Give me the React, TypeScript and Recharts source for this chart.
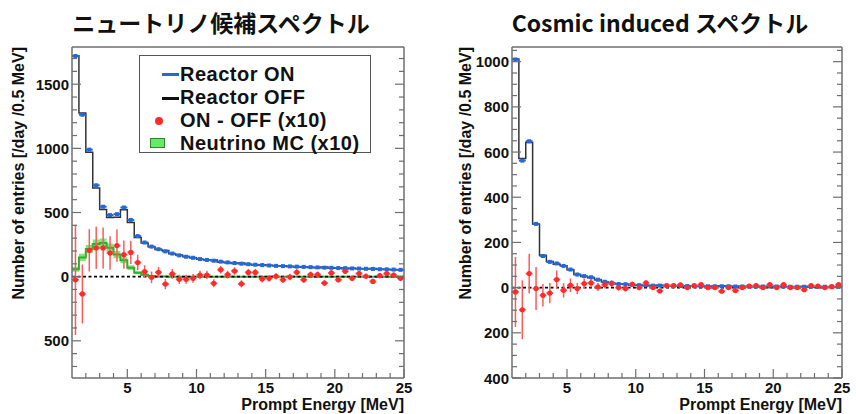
import React from 'react';
import { ComposedChart, Line, Area, Scatter, XAxis, YAxis, ErrorBar, ReferenceLine } from 'recharts';

// 0.5 MeV bins from 1 to 25 MeV
const binCenters = Array.from({ length: 48 }, (_, i) => 1.25 + 0.5 * i);

// left panel: neutrino candidates
const nuOn = [1720, 1262, 990, 712, 545, 480, 487, 539, 442, 316, 266, 234, 214, 197, 180, 166, 155, 147, 137, 130, 124, 117, 111, 106, 101, 97, 93, 90, 87, 84, 82, 80, 78, 76, 74, 72, 70, 69, 67, 66, 64, 63, 61, 60, 58, 57, 55, 53];
const nuOff = [1722, 1276, 970, 690, 523, 462, 463, 522, 423, 305, 262, 234, 211, 203, 178, 168, 157, 148, 136, 129, 129, 112, 109, 102, 107, 94, 90, 92, 88, 84, 84, 80, 75, 78, 72, 70, 75, 66, 69, 62, 65, 61, 61, 64, 57, 55, 54, 54];
const nuDiff = [-25, -135, 205, 224, 224, 184, 242, 171, 189, 110, 39, -5, 34, -58, 21, -21, -21, -13, 13, 13, -52, 54, 16, 44, -56, 33, 33, -18, -13, 3, -24, -3, 34, -24, 16, 16, -50, 29, -24, 42, -13, 24, 3, -37, 8, 24, 13, -13];
const nuDiffErr = [430, 230, 165, 165, 160, 130, 125, 110, 90, 60, 50, 45, 40, 40, 38, 36, 35, 34, 33, 32, 31, 30, 30, 29, 28, 28, 27, 27, 26, 26, 25, 25, 25, 24, 24, 24, 23, 23, 23, 22, 22, 22, 21, 21, 21, 21, 20, 20];
const mcNu = [58, 150, 215, 255, 262, 225, 172, 128, 70, 30, 14, 6, 2, 1, 0, 0, 0, 0, 0, 0, 0, 0, 0, 0, 0, 0, 0, 0, 0, 0, 0, 0, 0, 0, 0, 0, 0, 0, 0, 0, 0, 0, 0, 0, 0, 0, 0, 0];
const mcNuErr = [20, 28, 32, 35, 35, 33, 28, 24, 18, 12, 8, 5, 3, 2, 0, 0, 0, 0, 0, 0, 0, 0, 0, 0, 0, 0, 0, 0, 0, 0, 0, 0, 0, 0, 0, 0, 0, 0, 0, 0, 0, 0, 0, 0, 0, 0, 0, 0];

// right panel: cosmic induced
const cosOn = [1010, 562, 648, 282, 140, 114, 107, 96, 80, 58, 51, 46, 35, 26, 21, 16, 15, 13, 11, 10, 9, 9, 8, 8, 7, 7, 7, 6, 6, 6, 6, 6, 5, 5, 5, 5, 5, 5, 5, 5, 4, 4, 4, 4, 4, 4, 4, 4];
const cosOff = [1012, 572, 642, 282, 143, 116, 103, 97, 79, 58, 49, 44, 35, 25, 19, 16, 15, 11, 11, 8, 9, 10, 7, 7, 6, 7, 6, 5, 6, 6, 8, 6, 6, 5, 4, 4, 5, 4, 5, 4, 4, 4, 5, 3, 3, 4, 4, 3];
const cosDiff = [-19, -98, 62, -4, -34, -24, 36, -12, 10, -4, 18, 21, 3, 13, 18, 0, -4, 15, 0, 21, 0, -15, 9, 9, 12, 0, 9, 13, 0, 0, -16, 0, -13, 0, 7, 9, 0, 13, 0, 13, 0, 0, -9, 9, 7, 0, 4, 13];
const cosDiffErr = [155, 130, 88, 95, 50, 45, 40, 32, 30, 25, 22, 20, 18, 16, 15, 14, 13, 12, 12, 11, 11, 10, 10, 10, 9, 9, 9, 9, 9, 9, 9, 9, 9, 9, 9, 9, 9, 9, 9, 9, 9, 9, 9, 9, 9, 9, 9, 9];

const xTicks = [2, 3, 4, 5, 6, 7, 8, 9, 10, 11, 12, 13, 14, 15, 16, 17, 18, 19, 20, 21, 22, 23, 24, 25];

const AXIS = '#6e6e6e';
const BLUE = '#2468d8';
const RED = '#ff2b2b';
const latinFont = '"Liberation Sans", Arial, sans-serif';
const tickFont = { fontFamily: latinFont, fontWeight: 700, fontSize: 15 };
const jpFont = '"Noto Sans CJK JP", "Noto Sans", sans-serif';

const pointRows = (vals: number[], errs?: number[]) =>
  binCenters.map((x, i) => ({ x, y: vals[i], xe: 0.25, ye: errs ? errs[i] : 0 }));

const stepRows = (vals: number[], errs?: number[]) => {
  const rows = binCenters.map((c, i) => ({
    x: c - 0.25,
    y: vals[i],
    band: errs ? [vals[i] - errs[i], vals[i] + errs[i]] : [vals[i], vals[i]],
  }));
  const last = rows[rows.length - 1];
  rows.push({ x: 25, y: last.y, band: last.band });
  return rows;
};

const xTick = (side: 'bottom' | 'top') => (p: any) => {
  const v = p.payload.value;
  const major = v % 5 === 0;
  const len = major ? 9 : 5;
  const dir = side === 'bottom' ? -1 : 1;
  return (
    <g>
      <line x1={p.x} y1={p.y} x2={p.x} y2={p.y + dir * len} stroke={AXIS} strokeWidth={1.2} />
      {side === 'bottom' && major && (
        <text x={p.x} y={p.y + 14.5} textAnchor="middle" fill="#111" style={tickFont}>{v}</text>
      )}
    </g>
  );
};

const yTick = (side: 'left' | 'right', majorStep: number) => (p: any) => {
  const v = p.payload.value;
  const major = Math.abs(v % majorStep) < 1e-6;
  const len = major ? 9 : 5;
  const dir = side === 'left' ? 1 : -1;
  return (
    <g>
      <line x1={p.x} y1={p.y} x2={p.x + dir * len} y2={p.y} stroke={AXIS} strokeWidth={1.2} />
      {side === 'left' && major && (
        <text x={p.x - 3} y={p.y + 5.5} textAnchor="end" fill="#111" style={tickFont}>{Math.abs(v)}</text>
      )}
    </g>
  );
};

type PanelProps = {
  on: number[];
  off: number[];
  diff: number[];
  diffErr: number[];
  mc?: number[];
  mcErr?: number[];
  yMin: number;
  yMax: number;
  yStep: number;
  yMajor: number;
  marginLeft: number;
  marginRight: number;
};

const Panel = ({ on, off, diff, diffErr, mc, mcErr, yMin, yMax, yStep, yMajor, marginLeft, marginRight }: PanelProps) => {
  const yTicks: number[] = [];
  for (let t = Math.ceil(yMin / yStep) * yStep; t < yMax; t += yStep) yTicks.push(t);

  return (
    <ComposedChart width={428} height={414} margin={{ top: 27, right: marginRight, bottom: 6, left: marginLeft }}>
      <XAxis xAxisId={0} dataKey="x" type="number" domain={[1, 25]} ticks={xTicks} interval={0} allowDataOverflow
        height={30} tickSize={0} tickMargin={0} tickLine={false} axisLine={{ stroke: AXIS, strokeWidth: 1.5 }} tick={xTick('bottom')} />
      <XAxis xAxisId="top" orientation="top" type="number" domain={[1, 25]} ticks={xTicks} interval={0} allowDataOverflow
        height={20} tickSize={0} tickMargin={0} tickLine={false} axisLine={{ stroke: AXIS, strokeWidth: 1.5 }} tick={xTick('top')} />
      <YAxis yAxisId={0} type="number" domain={[yMin, yMax]} ticks={yTicks} interval={0} allowDataOverflow
        width={60} tickSize={0} tickMargin={0} tickLine={false} axisLine={{ stroke: AXIS, strokeWidth: 1.5 }} tick={yTick('left', yMajor)} />
      <YAxis yAxisId="right" orientation="right" type="number" domain={[yMin, yMax]} ticks={yTicks} interval={0} allowDataOverflow
        width={10} tickSize={0} tickMargin={0} tickLine={false} axisLine={{ stroke: AXIS, strokeWidth: 1.5 }} tick={yTick('right', yMajor)} />

      {mc && (
        <Area data={stepRows(mc, mcErr)} dataKey="band" type="stepAfter" stroke="none" fill="#5fe85f" fillOpacity={0.85} isAnimationActive={false} />
      )}
      {mc && (
        <Line data={stepRows(mc)} dataKey="y" type="stepAfter" stroke="#2fae2f" strokeWidth={2} dot={false} isAnimationActive={false} />
      )}
      <ReferenceLine y={0} stroke="#000" strokeDasharray="3 2.5" strokeWidth={1.6} />
      <Line data={stepRows(off)} dataKey="y" type="stepAfter" stroke="#333" strokeWidth={1.5} dot={false} isAnimationActive={false} />
      <Scatter data={pointRows(on)} dataKey="y" fill={BLUE} isAnimationActive={false}
        shape={(p: any) => <rect x={p.cx - 2} y={p.cy - 2} width={4} height={4} fill={BLUE} />}>
        <ErrorBar dataKey="xe" direction="x" width={0} stroke={BLUE} strokeWidth={2} isAnimationActive={false} />
      </Scatter>
      <Scatter data={pointRows(diff, diffErr)} dataKey="y" fill={RED} isAnimationActive={false}
        shape={(p: any) => <circle cx={p.cx} cy={p.cy} r={2.6} fill={RED} />}>
        <ErrorBar dataKey="ye" direction="y" width={0} stroke="#ff5a5a" strokeWidth={1.5} isAnimationActive={false} />
        <ErrorBar dataKey="xe" direction="x" width={0} stroke="#ff5a5a" strokeWidth={1.8} isAnimationActive={false} />
      </Scatter>
    </ComposedChart>
  );
};

const yLabelStyle = (cx: number): React.CSSProperties => ({
  position: 'absolute',
  left: cx,
  top: 47,
  whiteSpace: 'nowrap',
  transformOrigin: 'top left',
  transform: 'rotate(-90deg) translate(-100%, -50%)',
  fontFamily: latinFont,
  fontWeight: 700,
  fontSize: 16,
  lineHeight: '18px',
  color: '#111',
});

const xLabelStyle = (right: number): React.CSSProperties => ({
  position: 'absolute',
  left: right,
  top: 396,
  whiteSpace: 'nowrap',
  transform: 'translateX(-100%)',
  fontFamily: latinFont,
  fontWeight: 700,
  fontSize: 16,
  lineHeight: '18px',
  color: '#111',
});

const titleStyle = (cx: number): React.CSSProperties => ({
  position: 'absolute',
  left: cx,
  top: 9,
  whiteSpace: 'nowrap',
  transform: 'translateX(-50%)',
  fontFamily: jpFont,
  fontWeight: 700,
  fontSize: 23,
  lineHeight: '26px',
  color: '#111',
});

const legendRow: React.CSSProperties = { position: 'absolute', left: 40, height: 20, lineHeight: '20px' };

const Legend = () => (
  <div style={{ position: 'absolute', left: 139, top: 55, width: 232, height: 98, border: '1.5px solid #555', background: '#fff',
    fontFamily: latinFont, fontWeight: 700, fontSize: 20, letterSpacing: 0.5, color: '#111', boxSizing: 'border-box' }}>
    <div style={{ position: 'absolute', left: 22, top: 17, width: 17, height: 3, background: BLUE }} />
    <div style={{ ...legendRow, top: 8 }}>Reactor ON</div>
    <div style={{ position: 'absolute', left: 22, top: 41, width: 17, height: 3, background: '#111' }} />
    <div style={{ ...legendRow, top: 31 }}>Reactor OFF</div>
    <div style={{ position: 'absolute', left: 15, top: 61, width: 8, height: 8, borderRadius: 4, background: RED }} />
    <div style={{ ...legendRow, top: 54 }}>ON - OFF (x10)</div>
    <div style={{ position: 'absolute', left: 10, top: 82, width: 15, height: 10, background: '#6ae86a', border: '1px solid #2a8a2a', boxSizing: 'border-box' }} />
    <div style={{ ...legendRow, top: 77 }}>Neutrino MC (x10)</div>
  </div>
);

export default function App() {
  return (
    <div style={{ position: 'absolute', left: 0, top: 0, width: 856, height: 414, background: '#fff', overflow: 'hidden' }}>
      <div style={{ position: 'absolute', left: 0, top: 0 }}>
        <Panel on={nuOn} off={nuOff} diff={nuDiff} diffErr={nuDiffErr} mc={mcNu} mcErr={mcNuErr}
          yMin={-790} yMax={1790} yStep={100} yMajor={500} marginLeft={12} marginRight={14} />
      </div>
      <div style={{ position: 'absolute', left: 428, top: 0 }}>
        <Panel on={cosOn} off={cosOff} diff={cosDiff} diffErr={cosDiffErr}
          yMin={-400} yMax={1065} yStep={50} yMajor={200} marginLeft={24} marginRight={4} />
      </div>
      <div style={titleStyle(221)}>ニュートリノ候補スペクトル</div>
      <div style={titleStyle(660)}>Cosmic induced スペクトル</div>
      <div style={yLabelStyle(19)}>Number of entries [/day /0.5 MeV]</div>
      <div style={yLabelStyle(466)}>Number of entries [/day /0.5 MeV]</div>
      <div style={xLabelStyle(404)}>Prompt Energy [MeV]</div>
      <div style={xLabelStyle(842)}>Prompt Energy [MeV]</div>
      <Legend />
    </div>
  );
}
